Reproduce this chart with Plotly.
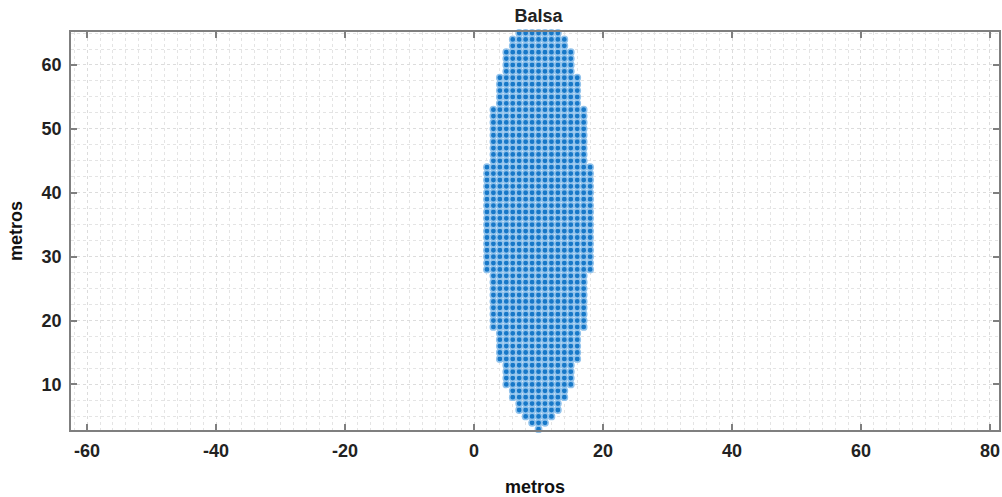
import plotly.graph_objects as go

# Raft ("Balsa") occupancy grid: horizontal bands of points, 1 m spacing
band_y_low  = [3, 4, 5, 6, 8, 10, 14, 19, 28, 45, 54, 59, 63, 65]
band_y_high = [3, 4, 5, 7, 9, 13, 18, 27, 44, 53, 58, 62, 64, 65]
band_x_min  = [10, 9, 8, 7, 6, 5, 4, 3, 2, 3, 4, 5, 6, 7]
band_x_max  = [10, 11, 12, 13, 14, 15, 16, 17, 18, 17, 16, 15, 14, 13]

x_ticks = [-60, -40, -20, 0, 20, 40, 60, 80]
x_tick_labels = ["-60", "-40", "-20", "0", "20", "40", "60", "80"]
y_ticks = [10, 20, 30, 40, 50, 60]
y_tick_labels = ["10", "20", "30", "40", "50", "60"]

xs, ys = [], []
for ylo, yhi, xmn, xmx in zip(band_y_low, band_y_high, band_x_min, band_x_max):
    for yy in range(ylo, yhi + 1):
        for xx in range(xmn, xmx + 1):
            xs.append(xx)
            ys.append(yy)

FONT = "Liberation Sans"
frame = "#7f7f7f"

fig = go.Figure()
fig.add_trace(go.Scatter(
    x=xs, y=ys, mode="markers",
    marker=dict(symbol="circle", size=6.3, color="#1778c8",
                line=dict(color="#92c3ec", width=1.5)),
    cliponaxis=False, showlegend=False,
))

axis_common = dict(
    showline=True, linecolor=frame, linewidth=1.5, mirror="ticks",
    ticks="inside", ticklen=6, tickwidth=1.5, tickcolor=frame,
    showgrid=True, gridcolor="#dcdcdc", griddash="dot", gridwidth=1,
    zeroline=False,
    tickfont=dict(family=FONT, size=18, color="#222222", weight="bold"),
)

fig.update_layout(
    width=1002, height=497,
    margin=dict(l=71, r=1, t=32, b=63),
    paper_bgcolor="white", plot_bgcolor="white",
    title=dict(text="<b>Balsa</b>", x=0.5375, xanchor="center", y=0.968, yanchor="middle",
               font=dict(family=FONT, size=18, color="#222222")),
    xaxis=dict(range=[-62.5, 81.4], tickvals=x_ticks, ticktext=x_tick_labels,
               ticklabelstandoff=4,
               title=dict(text="<b>metros</b>", standoff=22,
                          font=dict(family=FONT, size=18, color="#111111")),
               minor=dict(dtick=2, tick0=0, showgrid=True, gridcolor="#e4e4e4",
                          griddash="dot", gridwidth=1, ticks=""),
               **axis_common),
    yaxis=dict(range=[2.87, 65.16], tickvals=y_ticks, ticktext=y_tick_labels,
               ticklabelstandoff=4,
               title=dict(text="<b>metros</b>", standoff=14,
                          font=dict(family=FONT, size=18, color="#111111")),
               minor=dict(dtick=2.5, tick0=0, showgrid=True, gridcolor="#e4e4e4",
                          griddash="dot", gridwidth=1, ticks=""),
               **axis_common),
)

fig.write_html("out.html")
